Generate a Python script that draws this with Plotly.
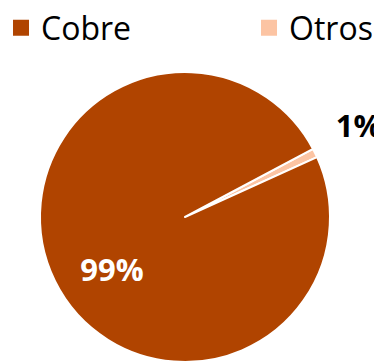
import plotly.graph_objects as go

labels = ["Otros", "Cobre"]
values = [1, 99]
colors = ["#FCC4A3", "#B04400"]
legend_order = ["Cobre", "Otros"]
text_templates = ["%{percent:.0%}<br> ", " <br>%{percent:.0%}\u00a0\u00a0"]
text_positions = ["outside", "inside"]
text_colors = ["#000000", "#FFFFFF"]

color_of = dict(zip(labels, colors))

fig = go.Figure()

fig.add_trace(
    go.Pie(
        labels=labels,
        values=values,
        sort=False,
        direction="clockwise",
        rotation=62,
        domain=dict(x=[0, 354 / 382], y=[0, 1]),
        marker=dict(colors=colors, line=dict(color="white", width=2)),
        texttemplate=text_templates,
        textposition=text_positions,
        textfont=dict(family="Open Sans", size=31, color=text_colors, weight="bold"),
        insidetextorientation="horizontal",
        showlegend=False,
        hoverinfo="label+percent",
    )
)

# legend entries (square swatches) for each category
legend_widths = {"Cobre": 203, "Otros": 88}
for name in legend_order:
    fig.add_trace(
        go.Scatter(
            x=[None],
            y=[None],
            mode="markers",
            name=name,
            marker=dict(symbol="square", size=16, color=color_of[name], line=dict(width=0)),
            legendwidth=legend_widths[name],
            showlegend=True,
            hoverinfo="skip",
        )
    )

fig.update_layout(
    width=382,
    height=362,
    margin=dict(l=0, r=0, t=64, b=8, autoexpand=False),
    paper_bgcolor="white",
    plot_bgcolor="white",
    font=dict(family="Open Sans", color="#000000"),
    xaxis=dict(visible=False),
    yaxis=dict(visible=False),
    legend=dict(
        orientation="h",
        x=-0.0183,
        xanchor="left",
        y=1.2466,
        yanchor="top",
        bgcolor="rgba(0,0,0,0)",
        traceorder="normal",
        font=dict(family="Open Sans", size=32, color="#000000"),
    ),
)

fig.write_html("out.html")
